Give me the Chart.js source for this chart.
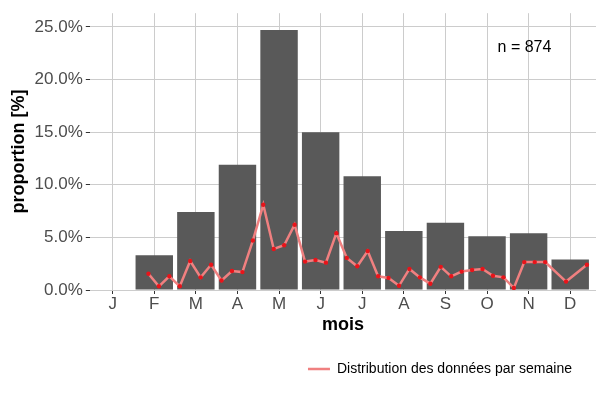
<!DOCTYPE html>
<html>
<head>
<meta charset="utf-8">
<script src="https://cdn.jsdelivr.net/npm/chart.js@4"></script>
<style>
  body { margin: 0; background: #fff; }
  #wrap { width: 600px; height: 400px; }
</style>
</head>
<body>
<div id="wrap"><canvas id="c"></canvas></div>
<script>
// monthly proportions (%)
const months = ["J", "F", "M", "A", "M", "J", "J", "A", "S", "O", "N", "D"];
const monthValues = [0.05, 3.3, 7.4, 11.9, 24.7, 15.0, 10.8, 5.6, 6.4, 5.1, 5.4, 2.9];
// weekly distribution (%), first week starts at month position 1.86, one week = 0.251 month
const weekStart = 1.86;
const weekStep = 0.251;
const weekValues = [1.54, 0.35, 1.3, 0.35, 2.75, 1.2, 2.4, 0.9, 1.8, 1.7,
  4.7, 8.1, 3.9, 4.25, 6.2, 2.7, 2.85, 2.6, 5.4, 3.05,
  2.25, 3.7, 1.3, 1.15, 0.4, 2.0, 1.2, 0.6, 2.2, 1.3,
  1.75, 1.9, 2.0, 1.35, 1.2, 0.2, 2.65, 2.65, 2.65, null,
  0.8, null, 2.4];
const sampleLabel = "n = 874";

const font = "Liberation Sans";

const nLabel = {
  id: "nLabel",
  afterDraw(chart) {
    const { ctx, scales } = chart;
    ctx.save();
    ctx.font = "16px " + font;
    ctx.fillStyle = "#000";
    ctx.textAlign = "center";
    ctx.textBaseline = "middle";
    ctx.fillText(sampleLabel, scales.x.getPixelForValue(10.9), scales.y.getPixelForValue(23.0));
    ctx.restore();
  }
};

new Chart(document.getElementById("c").getContext("2d"), {
  data: {
    datasets: [
      {
        type: "bar",
        label: "mois",
        data: monthValues.map((v, i) => ({ x: i + 1, y: v })),
        backgroundColor: "#595959",
        barPercentage: 0.9,
        categoryPercentage: 1,
        order: 2
      },
      {
        type: "line",
        label: "Distribution des données par semaine",
        data: weekValues.map((v, i) => ({ x: weekStart + i * weekStep, y: v })),
        borderColor: "#f08080",
        backgroundColor: "#f08080",
        borderWidth: 2.5,
        pointRadius: 2.2,
        pointBackgroundColor: "#e8141a",
        pointBorderWidth: 0,
        spanGaps: true,
        tension: 0,
        order: 1
      }
    ]
  },
  options: {
    responsive: true,
    maintainAspectRatio: false,
    animation: false,
    layout: { padding: { left: 6, right: 2, top: 0, bottom: 14 } },
    plugins: {
      tooltip: { enabled: false },
      legend: {
        position: "bottom",
        align: "end",
        labels: {
          boxWidth: 22,
          boxHeight: 0,
          padding: 26,
          color: "#1a1a1a",
          font: { family: font, size: 14 },
          generateLabels: chart => [{
            text: "Distribution des données par semaine",
            strokeStyle: "#f08080",
            fillStyle: "#f08080",
            lineWidth: 2.5,
            datasetIndex: 1
          }]
        }
      }
    },
    scales: {
      x: {
        type: "linear",
        min: 0.45,
        max: 12.62,
        offset: false,
        grid: { offset: false, color: "#cccccc", drawTicks: true, tickColor: "#333", tickLength: 4 },
        border: { display: false },
        afterBuildTicks: axis => { axis.ticks = months.map((m, i) => ({ value: i + 1 })); },
        ticks: {
          autoSkip: false,
          color: "#4d4d4d",
          font: { family: font, size: 17 },
          padding: 0,
          callback: v => months[v - 1]
        },
        title: { display: true, text: "mois", color: "#000", font: { family: font, size: 18, weight: "bold" }, padding: 0 }
      },
      y: {
        min: 0,
        max: 26.3,
        grid: { color: "#cccccc", tickColor: "#333", tickLength: 4 },
        border: { display: false },
        afterBuildTicks: axis => { axis.ticks = [0, 5, 10, 15, 20, 25].map(v => ({ value: v })); },
        ticks: {
          color: "#4d4d4d",
          font: { family: font, size: 17 },
          callback: v => v.toFixed(1) + "%"
        },
        title: { display: true, text: "proportion [%]", color: "#000", font: { family: font, size: 18, weight: "bold" }, padding: 2 }
      }
    }
  },
  plugins: [nLabel]
});
</script>
</body>
</html>
